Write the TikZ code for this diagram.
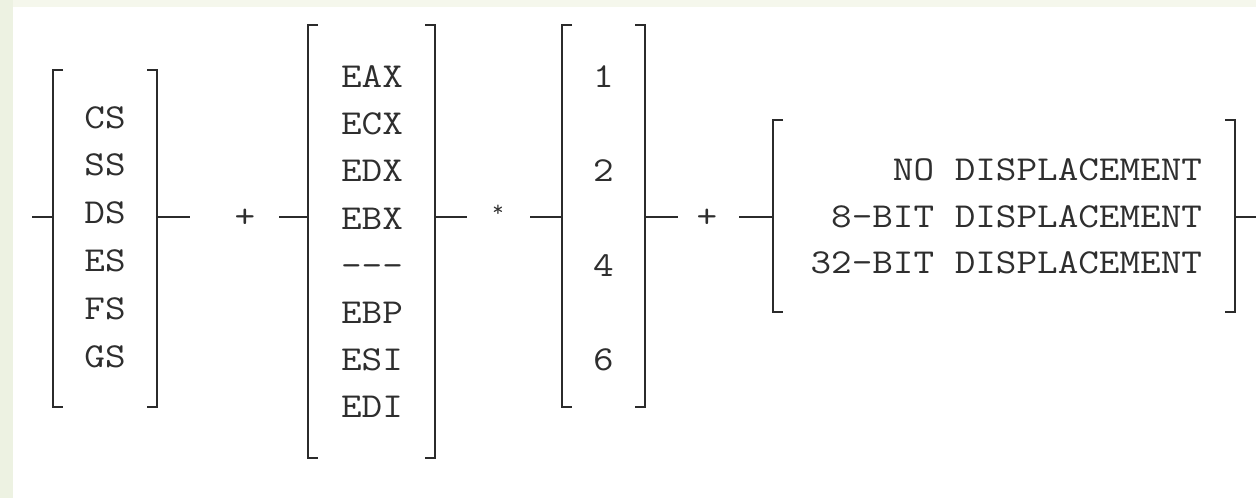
\documentclass[tikz,border=0pt]{standalone}
\usepackage{fontspec}
\definecolor{linec}{HTML}{2B2B2B}
\definecolor{txtc}{HTML}{2E2E2E}
\definecolor{bgl}{HTML}{EDF2E2}
\definecolor{bgt}{HTML}{F5F7EC}
\newcommand\brackets[1]{%
  \draw[brk] ([xshift=10pt]#1.north west) -- (#1.north west) -- (#1.south west) -- ([xshift=10pt]#1.south west);
  \draw[brk] ([xshift=-10pt]#1.north east) -- (#1.north east) -- (#1.south east) -- ([xshift=-10pt]#1.south east);}
\newcommand\wide[1]{\scalebox{1.143}[1]{#1}}
\begin{document}
\begin{tikzpicture}[x=1pt,y=-1pt,
  grp/.style={rectangle, inner sep=0pt, outer sep=0pt},
  brk/.style={draw=linec, line width=2.2pt},
  conn/.style={draw=linec, line width=2.2pt},
  lbl/.style={inner sep=0pt, outer sep=0pt, text=txtc, font=\ttfamily\fontsize{35}{40}\selectfont, anchor=base},
  rlbl/.style={lbl, anchor=base east},
  opr/.style={inner sep=0pt, outer sep=0pt, text=txtc, font=\ttfamily\fontsize{35}{40}\selectfont, anchor=center}]
\path[use as bounding box] (0,0) rectangle (1256,498);
\fill[white] (0,0) rectangle (1256,498);
\fill[bgl] (0,0) rectangle (13,498);
\fill[bgt] (13,0) rectangle (1256,7);

% groups
\node[grp, minimum width=104pt, minimum height=337pt] (seg) at (105,238.5) {};
\node[grp, minimum width=127pt, minimum height=433pt] (reg) at (371.5,241.5) {};
\node[grp, minimum width=83pt, minimum height=382pt] (scl) at (603.5,216) {};
\node[grp, minimum width=462pt, minimum height=192pt] (dsp) at (1004,216) {};
\brackets{seg}
\brackets{reg}
\brackets{scl}
\brackets{dsp}

% segment registers
\foreach \t [count=\i from 0] in {CS,SS,DS,ES,FS,GS}
  \node[lbl] (s\i) at (105,{128+47.8*\i}) {\wide{\t}};
% base registers
\foreach \t [count=\i from 0] in {EAX,ECX,EDX,EBX,---,EBP,ESI,EDI}
  \node[lbl] (r\i) at (372,{87.5+47.2*\i}) {\wide{\t}};
% scale
\foreach \t [count=\i from 0] in {1,2,4,6}
  \node[lbl] (k\i) at (603.5,{87.5+94.4*\i}) {\wide{\t}};
% displacement
\node[rlbl] (d0) at (1202,180) {\wide{NO DISPLACEMENT}};
\node[rlbl] (d1) at (1202,227) {\wide{8-BIT DISPLACEMENT}};
\node[rlbl] (d2) at (1202,273) {\wide{32-BIT DISPLACEMENT}};

% operators
\node[opr] (p1) at (245,218) {\wide{+}};
\node[opr, font=\ttfamily\fontsize{22}{26}\selectfont] (st) at (498,211) {*};
\node[opr] (p2) at (707,218) {\wide{+}};

% connectors
\coordinate (c0) at (32,217);
\coordinate (c1) at (190,217);
\coordinate (c2) at (279,217);
\coordinate (c3) at (467,217);
\coordinate (c4) at (530,217);
\coordinate (c5) at (678,217);
\coordinate (c6) at (739,217);
\coordinate (c7) at (1256,217);
\draw[conn] (c0) -- (seg.west |- c0);
\draw[conn] (seg.east |- c1) -- (c1);
\draw[conn] (c2) -- (reg.west |- c2);
\draw[conn] (reg.east |- c3) -- (c3);
\draw[conn] (c4) -- (scl.west |- c4);
\draw[conn] (scl.east |- c5) -- (c5);
\draw[conn] (c6) -- (dsp.west |- c6);
\draw[conn] (dsp.east |- c7) -- (c7);
\end{tikzpicture}
\end{document}
